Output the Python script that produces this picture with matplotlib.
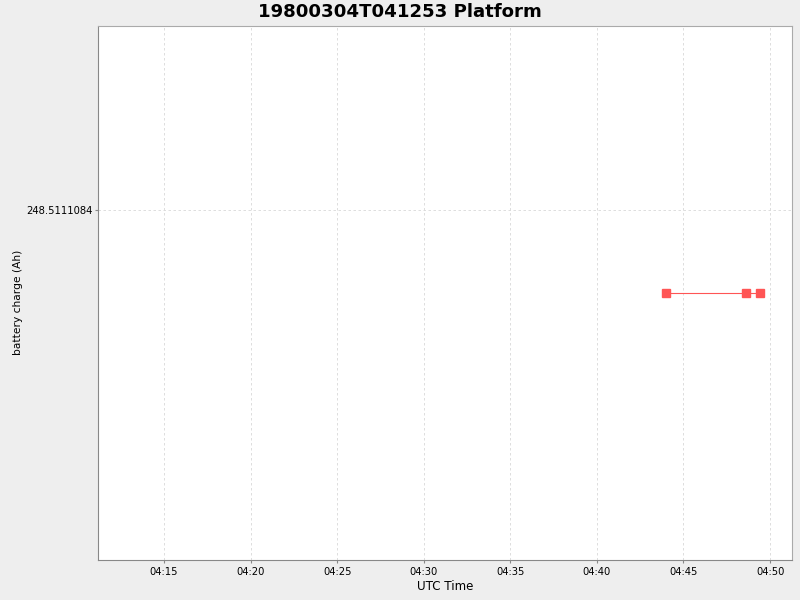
import matplotlib
matplotlib.use("Agg")
import matplotlib.pyplot as plt
import matplotlib.dates as mdates
from matplotlib.ticker import FixedLocator, FixedFormatter
import datetime as dt

title = "19800304T041253 Platform"
times = ["1980-03-04 04:43:59", "1980-03-04 04:48:37", "1980-03-04 04:49:25"]
charge = [248.5107974, 248.5107974, 248.5107974]
y_tick_values = [248.5111084]
y_tick_labels = ["248.5111084"]
x_start = "1980-03-04 04:11:11"
x_end = "1980-03-04 04:51:16"
y_lo, y_hi = 248.5097974, 248.5117974

t = [dt.datetime.strptime(s, "%Y-%m-%d %H:%M:%S") for s in times]

fig = plt.figure(figsize=(8, 6), dpi=100, facecolor="#EEEEEE")
ax = fig.add_axes([98/800, 1-560/600, (792-98)/800, (560-26)/600])
ax.set_facecolor("white")

ax.plot(t, charge, color="#FF5555", lw=0.8, marker="s", ms=6,
        markerfacecolor="#FF5555", markeredgecolor="#FF5555", zorder=3)

ax.set_xlim(dt.datetime.strptime(x_start, "%Y-%m-%d %H:%M:%S"),
            dt.datetime.strptime(x_end, "%Y-%m-%d %H:%M:%S"))
ax.set_ylim(y_lo, y_hi)
ax.xaxis.set_major_locator(mdates.MinuteLocator(byminute=range(0, 60, 5)))
ax.xaxis.set_major_formatter(mdates.DateFormatter("%H:%M"))
ax.yaxis.set_major_locator(FixedLocator(y_tick_values))
ax.yaxis.set_major_formatter(FixedFormatter(y_tick_labels))

ax.grid(True, color="#D8D8D8", ls=(0, (3, 3)), lw=0.6)
ax.tick_params(labelsize=7.2, length=2, color="#888888", width=0.8)
ax.tick_params(axis="x", pad=3)
ax.tick_params(axis="y", pad=2)
for side in ["left", "bottom"]:
    ax.spines[side].set_color("#888888")
for side in ["top", "right"]:
    ax.spines[side].set_color("#AAAAAA")
    ax.spines[side].set_linewidth(0.8)

ax.set_xlabel("UTC Time", fontsize=8.6, labelpad=2)
ax.set_ylabel("battery charge (Ah)", fontsize=7.7)
ax.yaxis.set_label_coords(-0.108, 0.483)
fig.text(0.5, 1-12/600, title, ha="center", va="center", fontsize=13.1, fontweight="bold")

fig.savefig("out.png", dpi=100, facecolor=fig.get_facecolor())
